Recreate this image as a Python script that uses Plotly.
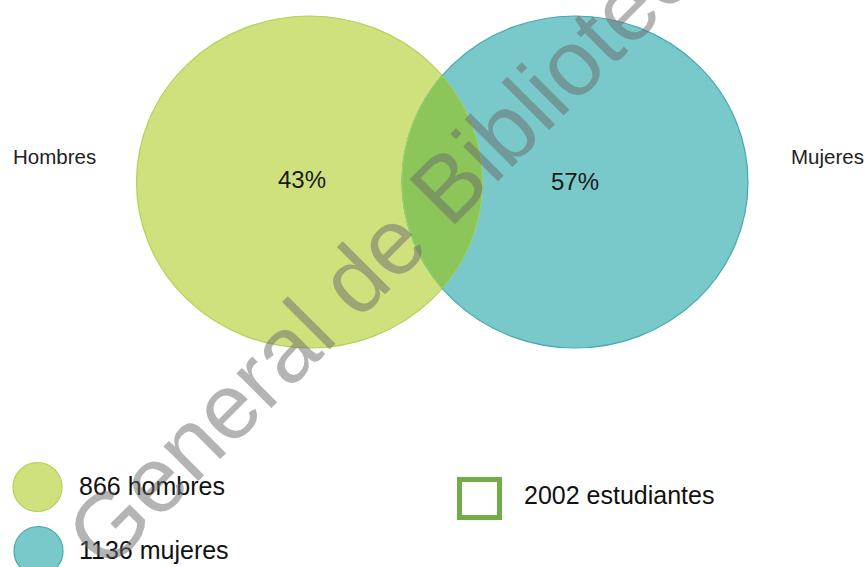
import numpy as np
import plotly.graph_objects as go

# --- data -------------------------------------------------------------
groups = ["Hombres", "Mujeres"]
counts = [866, 1136]
legend_labels = ["hombres", "mujeres"]
total_label = "estudiantes"
total = sum(counts)
percents = [round(100 * c / total) for c in counts]

# --- styling ----------------------------------------------------------
W, H = 868, 567
fill_colors = ["#cee17c", "#79c9ca"]
edge_colors = ["#b3d05a", "#46a9ab"]
overlap_fill = "#8cc65b"
overlap_edge = "#9fd464"
text_font = "Liberation Sans, Arial, sans-serif"

# ellipse geometry (pixel space)
centers_x = [309.5, 575.0]
center_y = 182.0
rx, ry = 173.0, 166.0

fig = go.Figure()

shapes = []
for cx, fc, ec in zip(centers_x, fill_colors, edge_colors):
    shapes.append(dict(type="circle", xref="x", yref="y",
                       x0=cx - rx, x1=cx + rx, y0=center_y - ry, y1=center_y + ry,
                       fillcolor=fc, line=dict(color=ec, width=1.2), layer="below"))

# lens where the two sets overlap
xm = (centers_x[0] + centers_x[1]) / 2
half = (xm - centers_x[0]) / rx
t0 = np.arccos(half)
# right arc of the left ellipse, then left arc of the right ellipse
ta = np.linspace(-t0, t0, 80)
pts = [(centers_x[0] + rx * np.cos(t), center_y + ry * np.sin(t)) for t in ta]
tb = np.linspace(np.pi - t0, np.pi + t0, 80)
pts += [(centers_x[1] + rx * np.cos(t), center_y + ry * np.sin(t)) for t in tb]
path = "M " + " L ".join(f"{x:.2f},{y:.2f}" for x, y in pts) + " Z"
shapes.append(dict(type="path", xref="x", yref="y", path=path,
                   fillcolor=overlap_fill, line=dict(color=overlap_edge, width=1),
                   layer="below"))

# legend markers
legend_cx = [37.5, 38.5]
legend_cy = [487.0, 551.0]
legend_r = 24.5
for cx, cy, fc, ec in zip(legend_cx, legend_cy, fill_colors, edge_colors):
    shapes.append(dict(type="circle", xref="x", yref="y",
                       x0=cx - legend_r, x1=cx + legend_r,
                       y0=cy - legend_r, y1=cy + legend_r,
                       fillcolor=fc, line=dict(color=ec, width=1.2), layer="below"))

# total-population marker
shapes.append(dict(type="rect", xref="x", yref="y",
                   x0=459.5, x1=499.5, y0=479.5, y1=517.5,
                   fillcolor="rgba(0,0,0,0)", line=dict(color="#70ad47", width=5),
                   layer="below"))

annotations = []
# percentage labels
pct_pos = [(302, 179), (575, 181)]
for (px, py), p in zip(pct_pos, percents):
    annotations.append(dict(x=px, y=py, xref="x", yref="y", text=f"{p}%",
                            showarrow=False, xanchor="center", yanchor="middle",
                            font=dict(family=text_font, size=24, color="#1a1a1a")))

# group names beside the sets
annotations.append(dict(x=11, y=156, xref="x", yref="y", text=groups[0],
                        showarrow=False, xanchor="left", yanchor="middle",
                        font=dict(family=text_font, size=20.5, color="#222222")))
annotations.append(dict(x=866, y=156, xref="x", yref="y", text=groups[1],
                        showarrow=False, xanchor="right", yanchor="middle",
                        font=dict(family=text_font, size=20.5, color="#222222")))

# legend texts
for cy, c, lab in zip(legend_cy, counts, legend_labels):
    annotations.append(dict(x=77, y=cy - 1, xref="x", yref="y", text=f"{c} {lab}",
                            showarrow=False, xanchor="left", yanchor="middle",
                            font=dict(family=text_font, size=25, color="#111111")))
annotations.append(dict(x=522, y=495, xref="x", yref="y",
                        text=f"{total} {total_label}",
                        showarrow=False, xanchor="left", yanchor="middle",
                        font=dict(family=text_font, size=25, color="#111111")))

# diagonal watermark
annotations.append(dict(x=398, y=236, xref="x", yref="y",
                        text="General de Biblioteca",
                        showarrow=False, xanchor="center", yanchor="middle",
                        textangle=-45,
                        font=dict(family=text_font, size=93,
                                  color="rgba(105,105,105,0.5)")))

fig.update_layout(
    width=W, height=H,
    margin=dict(l=0, r=0, t=0, b=0),
    paper_bgcolor="white", plot_bgcolor="white",
    xaxis=dict(range=[0, W], visible=False, fixedrange=True),
    yaxis=dict(range=[H, 0], visible=False, fixedrange=True),
    shapes=shapes, annotations=annotations,
    showlegend=False,
)

fig.write_html("out.html")
